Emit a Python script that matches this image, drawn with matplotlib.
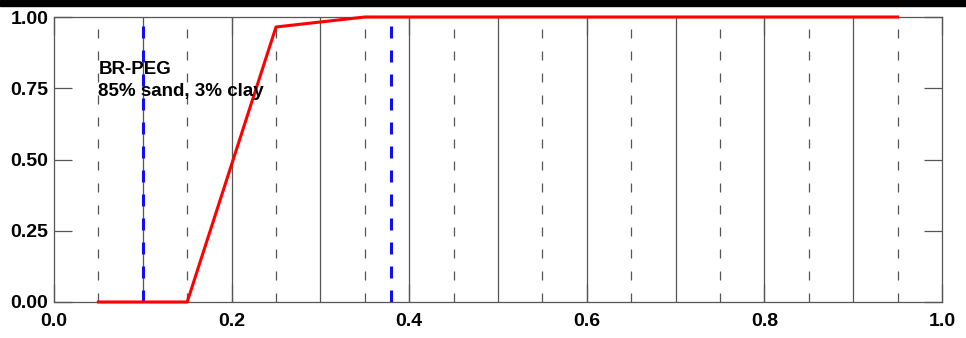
import matplotlib
matplotlib.use("Agg")
import matplotlib.pyplot as plt
from matplotlib.patches import Rectangle

plt.rcParams['font.family'] = ['Liberation Sans', 'DejaVu Sans']
plt.rcParams['font.weight'] = 'bold'
plt.rcParams['lines.scale_dashes'] = False

# cumulative fraction at bin centres
bin_centres = [0.05, 0.15, 0.25, 0.35, 0.45, 0.55, 0.65, 0.75, 0.85, 0.95]
cum_frac = [0.0, 0.0, 0.965, 1.0, 1.0, 1.0, 1.0, 1.0, 1.0, 1.0]

# bin edges (solid) and centres (dashed)
bin_edges = [0.1, 0.2, 0.3, 0.4, 0.5, 0.6, 0.7, 0.8, 0.9]
markers_blue = [0.1, 0.38]

label_text = "BR-PEG\n85% sand, 3% clay"

x_ticks = [0.0, 0.2, 0.4, 0.6, 0.8, 1.0]
y_ticks = [0.0, 0.25, 0.5, 0.75, 1.0]

fig = plt.figure(figsize=(9.66, 3.38), dpi=100)
ax = fig.add_axes([54/966, 1 - 302/338, 888/966, 285/338])

px = 0.72  # points per pixel at 100 dpi
grid_col = '#555555'
for xe in bin_edges:
    ax.plot([xe, xe], [0, 1], color=grid_col, lw=0.9, zorder=1)
for xc in bin_centres:
    ax.plot([xc, xc], [0, 1], color=grid_col, lw=0.9,
            dashes=(9*px, 13*px), zorder=1)
for xb in markers_blue:
    ax.plot([xb, xb], [0, 1], color='#1010ee', lw=2.2,
            dashes=(12*px, 12*px), zorder=2)

ax.plot(bin_centres, cum_frac, color='red', lw=2.2, zorder=3, clip_on=False)

ax.text(0.05, 0.845, label_text, fontsize=13.5, fontweight='bold',
        va='top', ha='left', linespacing=1.35, zorder=4)

ax.set_xlim(0, 1)
ax.set_ylim(0, 1)
ax.set_xticks(x_ticks)
ax.set_xticklabels(['%.1f' % v for v in x_ticks])
ax.set_yticks(y_ticks)
ax.set_yticklabels(['%.2f' % v for v in y_ticks])
ax.tick_params(direction='in', length=13, width=0.9, color=grid_col,
               labelsize=14, top=True, right=True)
ax.tick_params(axis='x', pad=8)
ax.tick_params(axis='y', pad=4)
for s in ax.spines.values():
    s.set_color(grid_col)
    s.set_linewidth(0.9)

# black band along the top edge
fig.patches.append(Rectangle((0, 1 - 6/338), 1, 6/338, transform=fig.transFigure,
                             color='black', zorder=10))

fig.savefig("out.png", dpi=100)
